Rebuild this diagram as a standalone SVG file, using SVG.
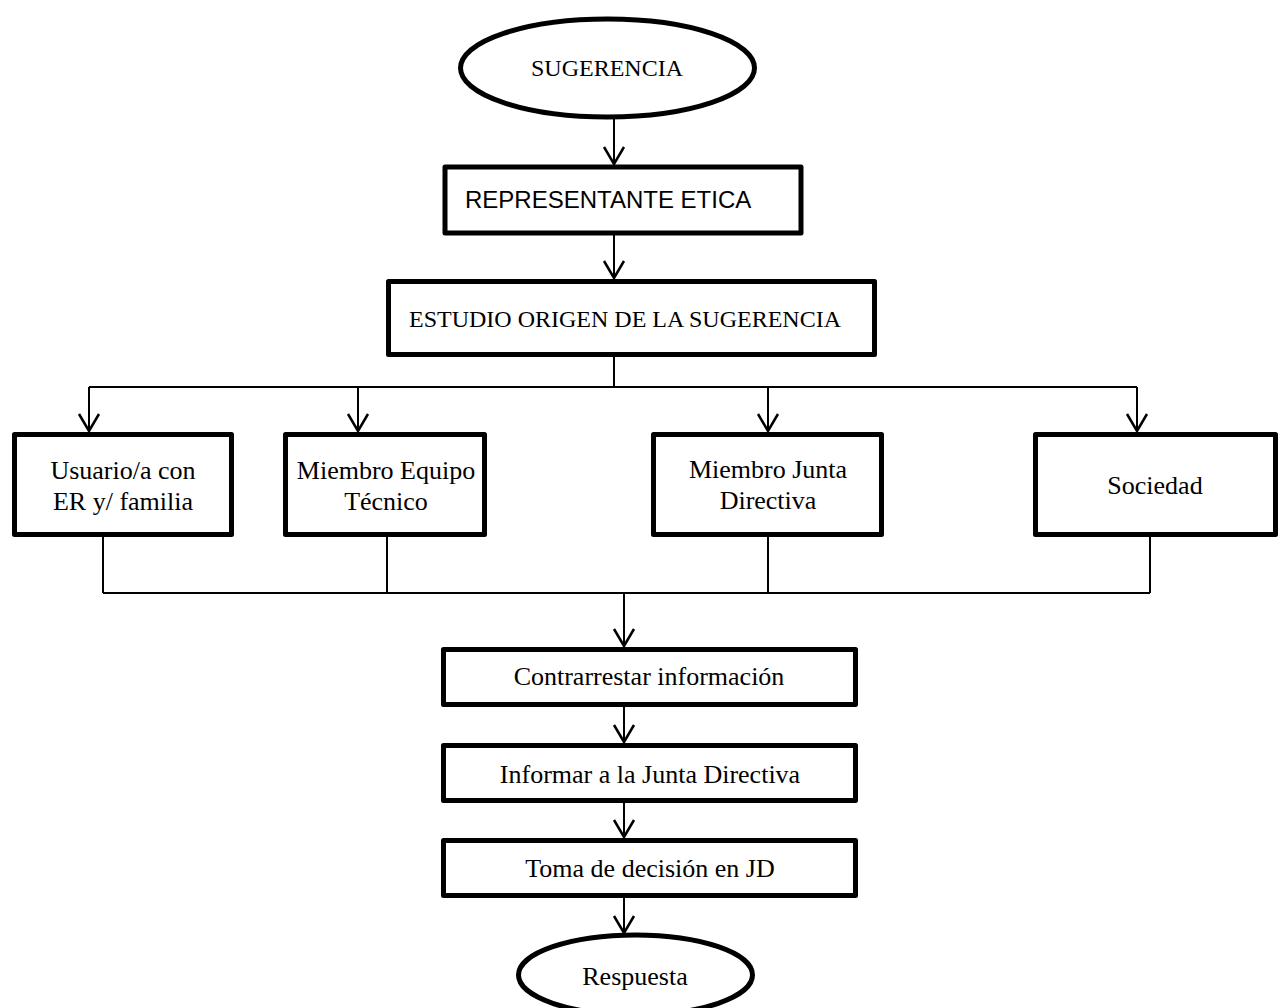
<svg xmlns="http://www.w3.org/2000/svg" width="1285" height="1008" viewBox="0 0 1285 1008">
<style>
.node{fill:#fff;stroke:#000;stroke-width:5;stroke-linejoin:round}
.c{fill:none;stroke:#000;stroke-width:2}
.ah{fill:none;stroke:#000;stroke-width:2.5;stroke-linejoin:miter}
.t{font-family:"Liberation Serif","Times New Roman",serif;font-size:26px;fill:#000;text-anchor:middle}
.t24{font-family:"Liberation Serif","Times New Roman",serif;font-size:24px;fill:#000}
.a24{font-family:"Liberation Sans",Arial,sans-serif;font-size:24px;fill:#000}
</style>
<rect width="1285" height="1008" fill="#fff"/>
<g id="connectors">
<path class="c" d="M614 118V164"/><path class="ah" d="M604 147L614 164L624 147"/>
<path class="c" d="M614 233V278"/><path class="ah" d="M604 261L614 278L624 261"/>
<path class="c" d="M614 357V387M89 387H1137M89 387V431M358 387V431M768 387V431M1137 387V431"/>
<path class="ah" d="M79 414L89 431L99 414M348 414L358 431L368 414M758 414L768 431L778 414M1127 414L1137 431L1147 414"/>
<path class="c" d="M103 537V593M387 537V593M768 537V593M1150 537V593M103 593H1150M624 593V646"/>
<path class="ah" d="M614 629L624 646L634 629"/>
<path class="c" d="M624 707V742"/><path class="ah" d="M614 725L624 742L634 725"/>
<path class="c" d="M624 803V837"/><path class="ah" d="M614 820L624 837L634 820"/>
<path class="c" d="M624 898V933"/><path class="ah" d="M614 916L624 933L634 916"/>
</g>
<g id="n-sugerencia"><ellipse class="node" cx="607.5" cy="68" rx="147" ry="49"/><text class="t24" x="607" y="76" text-anchor="middle">SUGERENCIA</text></g>
<g id="n-representante"><rect class="node" x="445" y="167" width="356" height="66"/><text class="a24" x="465" y="208">REPRESENTANTE ETICA</text></g>
<g id="n-estudio"><rect class="node" x="388.5" y="281.5" width="486" height="73"/><text class="t24" x="409" y="327">ESTUDIO ORIGEN DE LA SUGERENCIA</text></g>
<g id="n-usuario"><rect class="node" x="14.5" y="434.5" width="217" height="100"/><text class="t" x="123" y="479">Usuario/a con</text><text class="t" x="123" y="510">ER y/ familia</text></g>
<g id="n-equipo"><rect class="node" x="285.5" y="434.5" width="199" height="100"/><text class="t" x="386" y="479">Miembro Equipo</text><text class="t" x="386" y="510">Técnico</text></g>
<g id="n-junta"><rect class="node" x="653.5" y="434.5" width="228" height="100"/><text class="t" x="768" y="478">Miembro Junta</text><text class="t" x="768" y="509">Directiva</text></g>
<g id="n-sociedad"><rect class="node" x="1035.5" y="434.5" width="240" height="100"/><text class="t" x="1155" y="494">Sociedad</text></g>
<g id="n-contrarrestar"><rect class="node" x="443.5" y="649.5" width="412" height="55"/><text class="t" x="649" y="685">Contrarrestar información</text></g>
<g id="n-informar"><rect class="node" x="443.5" y="745.5" width="412" height="55"/><text class="t" x="650" y="783">Informar a la Junta Directiva</text></g>
<g id="n-toma"><rect class="node" x="443.5" y="840.5" width="412" height="55"/><text class="t" x="650" y="877">Toma de decisión en JD</text></g>
<g id="n-respuesta"><ellipse class="node" cx="635.5" cy="975" rx="117" ry="40"/><text class="t" x="635" y="985">Respuesta</text></g>
</svg>
